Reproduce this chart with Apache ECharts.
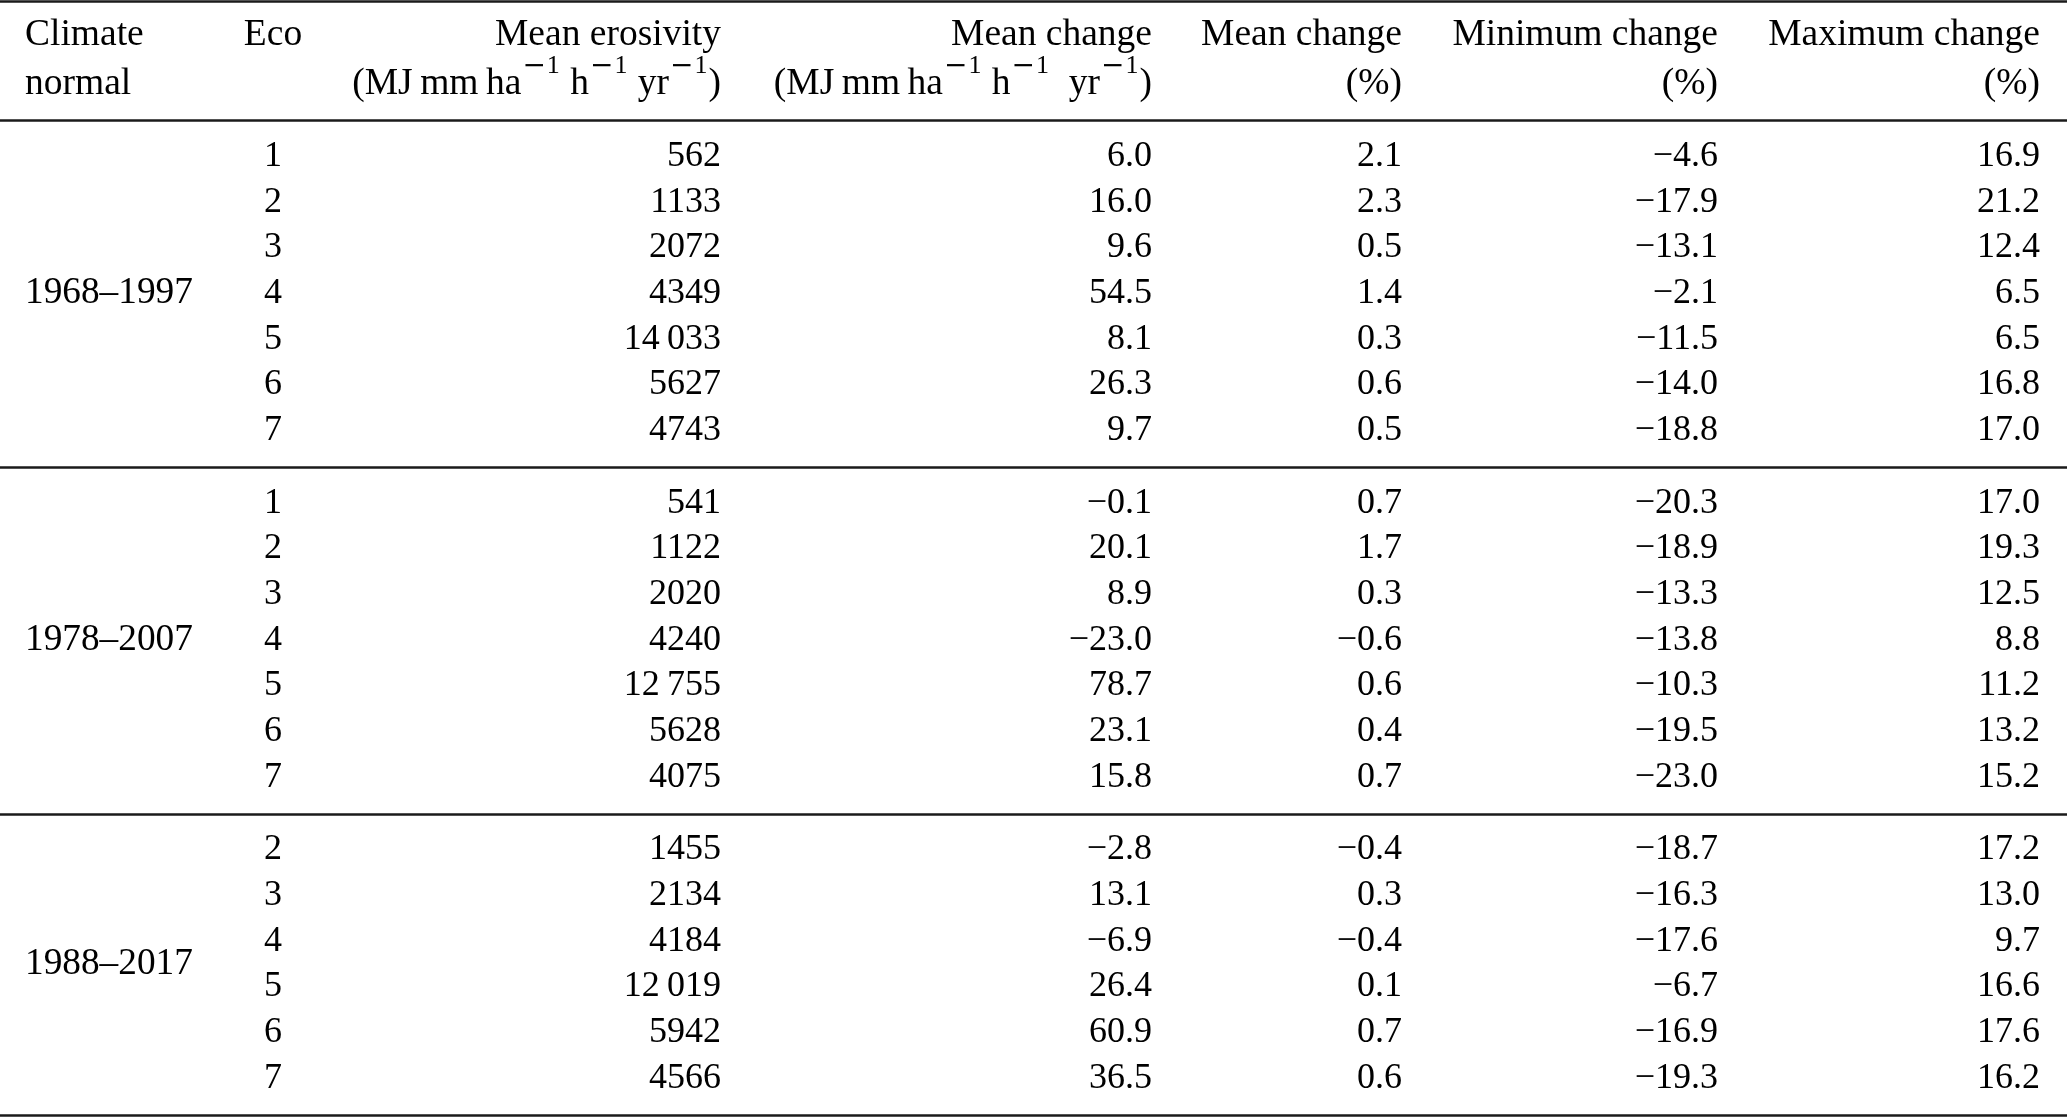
<!DOCTYPE html>
<html>
<head>
<meta charset="utf-8">
<script src="https://cdn.jsdelivr.net/npm/echarts@6/dist/echarts.min.js"></script>
<style>
html, body { margin: 0; padding: 0; background: #fff; }
#table-chart { width: 2067px; height: 1117px; }
</style>
</head>
<body>
<div id="table-chart"></div>
<script>
// table values, one array per column, split by climate normal
const periods = ['1968–1997', '1978–2007', '1988–2017'];
const eco = [[1, 2, 3, 4, 5, 6, 7], [1, 2, 3, 4, 5, 6, 7], [2, 3, 4, 5, 6, 7]];
const meanErosivity = [
    [562, 1133, 2072, 4349, 14033, 5627, 4743],
    [541, 1122, 2020, 4240, 12755, 5628, 4075],
    [1455, 2134, 4184, 12019, 5942, 4566]
];
const meanChangeAbs = [
    [6.0, 16.0, 9.6, 54.5, 8.1, 26.3, 9.7],
    [-0.1, 20.1, 8.9, -23.0, 78.7, 23.1, 15.8],
    [-2.8, 13.1, -6.9, 26.4, 60.9, 36.5]
];
const meanChangePct = [
    [2.1, 2.3, 0.5, 1.4, 0.3, 0.6, 0.5],
    [0.7, 1.7, 0.3, -0.6, 0.6, 0.4, 0.7],
    [-0.4, 0.3, -0.4, 0.1, 0.7, 0.6]
];
const minChange = [
    [-4.6, -17.9, -13.1, -2.1, -11.5, -14.0, -18.8],
    [-20.3, -18.9, -13.3, -13.8, -10.3, -19.5, -23.0],
    [-18.7, -16.3, -17.6, -6.7, -16.9, -19.3]
];
const maxChange = [
    [16.9, 21.2, 12.4, 6.5, 6.5, 16.8, 17.0],
    [17.0, 19.3, 12.5, 8.8, 11.2, 13.2, 15.2],
    [17.2, 13.0, 9.7, 16.6, 17.6, 16.2]
];
const headLine1 = ['Climate', 'Eco', 'Mean erosivity', 'Mean change', 'Mean change', 'Minimum change', 'Maximum change'];
const SUP = '{m|\u2212}{o|1}';
const headLine2 = ['normal', '',
    '(MJ\u2009mm\u2009ha' + SUP + ' h' + SUP + ' yr' + SUP + ')',
    '(MJ\u2009mm\u2009ha' + SUP + ' h' + SUP + '  yr' + SUP + ')',
    '(%)', '(%)', '(%)'];

// layout (table units = pixels of the 2067 x 1117 page)
const colX = [25, 273, 721, 1152, 1402, 1718, 2040];
const colAlign = ['left', 'center', 'right', 'right', 'right', 'right', 'right'];
const head1Y = 35.5, head2Y = 84;
const firstRowY = 156.5, rowStep = 45.7, groupExtra = 26.8;
const rules = [1.5, 120.5, 467.5, 814.5, 1115.5];
const FONT = '"Liberation Serif", "Times New Roman", Times, serif';

const fmt1 = v => (v < 0 ? '\u2212' : '') + Math.abs(v).toFixed(1);
const fmtInt = v => v >= 10000 ? String(v).replace(/\B(?=(\d{3})+$)/, '\u2009') : String(v);

const cells = [];
headLine1.forEach((t, c) => cells.push({x: colX[c], y: head1Y, text: t, col: c, size: 37.5}));
headLine2.forEach((t, c) => { if (t) cells.push({x: colX[c], y: head2Y, text: t, col: c, size: 37.5, head: true}); });

let rowIdx = 0;
periods.forEach((p, g) => {
    const ys = [];
    eco[g].forEach((e, i) => {
        const y = firstRowY + rowIdx * rowStep + g * groupExtra;
        ys.push(y);
        const row = [String(e), fmtInt(meanErosivity[g][i]), fmt1(meanChangeAbs[g][i]),
            fmt1(meanChangePct[g][i]), fmt1(minChange[g][i]), fmt1(maxChange[g][i])];
        row.forEach((t, k) => cells.push({x: colX[k + 1], y, text: t, col: k + 1, size: 36}));
        rowIdx++;
    });
    cells.push({x: colX[0], y: ys.reduce((a, b) => a + b, 0) / ys.length, text: p, col: 0, size: 37.3});
});

const chart = echarts.init(document.getElementById('table-chart'));
chart.setOption({
    animation: false,
    backgroundColor: '#fff',
    grid: {left: 0, right: 0, top: 0, bottom: 0},
    xAxis: {type: 'value', min: 0, max: 2067, show: false},
    yAxis: {type: 'value', min: 0, max: 1117, inverse: true, show: false},
    series: [
        {
            // horizontal rules of the table
            type: 'custom',
            silent: true,
            clip: false,
            data: rules.map(y => [0, y]),
            renderItem: (params, api) => {
                const y = api.value(1);
                const a = api.coord([0, y]);
                const b = api.coord([2067, y]);
                return {
                    type: 'line',
                    shape: {x1: a[0], y1: a[1], x2: b[0], y2: b[1]},
                    style: {stroke: '#1a1a1a', lineWidth: 2.5}
                };
            }
        },
        {
            // every text cell
            type: 'custom',
            silent: true,
            clip: false,
            data: cells.map(c => [c.x, c.y]),
            renderItem: (params, api) => {
                const cell = cells[params.dataIndex];
                const p = api.coord([api.value(0), api.value(1)]);
                const align = colAlign[cell.col];
                return {
                    type: 'text',
                    x: p[0],
                    y: p[1],
                    style: {
                        text: cell.text,
                        fontFamily: FONT,
                        fontSize: cell.size,
                        fill: '#000',
                        align: align,
                        textAlign: align,
                        verticalAlign: 'middle',
                        textVerticalAlign: 'middle',
                        lineHeight: cell.head ? 62 : 40,
                        rich: {
                            // superscript minus (wide math-style minus) and superscript one
                            m: {fontFamily: '"DejaVu Serif", serif', fontSize: 28, lineHeight: 30,
                                verticalAlign: 'top', fill: '#000', padding: [0, 1, 0, 1]},
                            o: {fontFamily: FONT, fontSize: 26, lineHeight: 24,
                                verticalAlign: 'top', fill: '#000', padding: [0, 1, 0, 0]}
                        }
                    }
                };
            }
        }
    ]
});
</script>
</body>
</html>
